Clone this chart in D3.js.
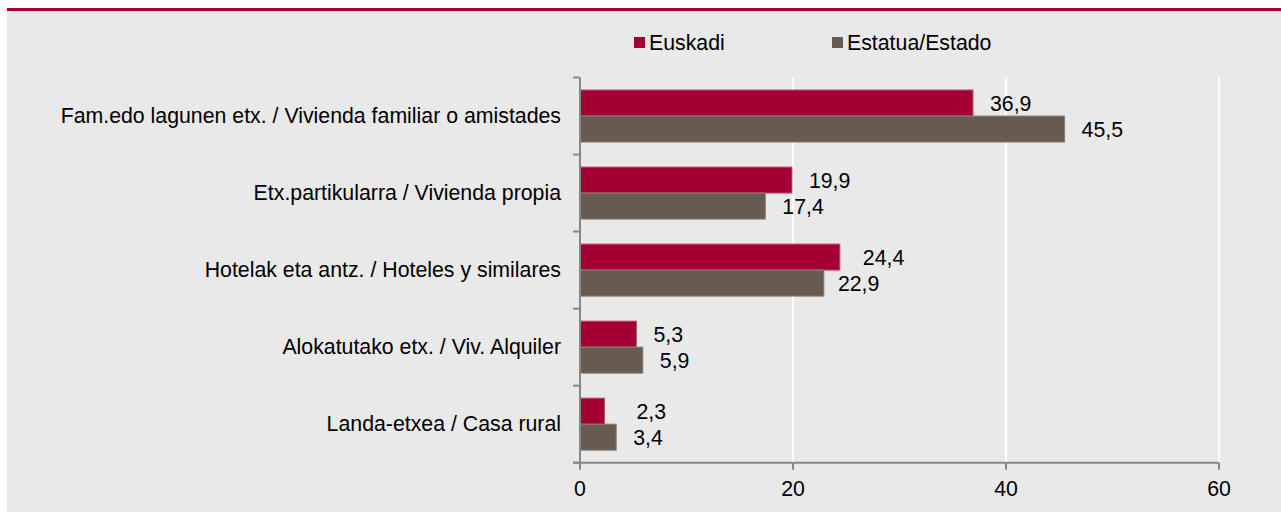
<!DOCTYPE html>
<html>
<head>
<meta charset="utf-8">
<script src="https://cdn.jsdelivr.net/npm/d3@7"></script>
<style>
  html, body { margin: 0; padding: 0; background: #ffffff; }
  svg { display: block; }
  text { font-family: "Liberation Sans", Arial, sans-serif; }
</style>
</head>
<body>
<svg id="chart" width="1281" height="512"></svg>
<script>
const categories = [
  "Fam.edo lagunen etx. / Vivienda familiar o amistades",
  "Etx.partikularra / Vivienda propia",
  "Hotelak eta antz. / Hoteles y similares",
  "Alokatutako etx. / Viv. Alquiler",
  "Landa-etxea / Casa rural"
];
const seriesNames = ["Euskadi", "Estatua/Estado"];
const euskadi = [36.9, 19.9, 24.4, 5.3, 2.3];
const estado = [45.5, 17.4, 22.9, 5.9, 3.4];
const xTicks = [0, 20, 40, 60];

(function () {
const colors = { "Euskadi": "#a50034", "Estatua/Estado": "#675a50" };
const strokes = { "Euskadi": "#c0506e", "Estatua/Estado": "#8a7f78" };
// small manual nudges of value labels as in the original layout
const labelNudge = { "Euskadi": [0, 0, 6, 0, 15], "Estatua/Estado": [0, 0, -3, 0, 0] };

const svg = d3.select("#chart");
const W = 1281, H = 512;
const FS = 21.3;

// background panel + top rule
svg.append("rect").attr("x", 7).attr("y", 11).attr("width", W - 7).attr("height", H - 11).attr("fill", "#e9e9e9");
svg.append("rect").attr("x", 7).attr("y", 8).attr("width", W - 7).attr("height", 3).attr("fill", "#a50034");

const pLeft = 580, pRight = 1219, pTop = 77.5, pBottom = 462.7;

const x = d3.scaleLinear().domain([0, 60]).range([pLeft, pRight]);
const y = d3.scaleBand().domain(categories).range([pTop, pBottom]).paddingInner(0).paddingOuter(0);
const ySub = d3.scaleBand().domain(seriesNames).range([12.5, y.bandwidth() - 12.5]).padding(0);

// gridlines
svg.append("g").selectAll("line").data(xTicks.filter(t => t > 0)).join("line")
  .attr("x1", d => x(d)).attr("x2", d => x(d))
  .attr("y1", pTop).attr("y2", pBottom)
  .attr("stroke", "#ffffff").attr("stroke-width", 2);

const rows = categories.map((c, i) => ({ cat: c, i, vals: [
  { s: "Euskadi", v: euskadi[i] },
  { s: "Estatua/Estado", v: estado[i] }
]}));

const g = svg.append("g");
const groups = g.selectAll("g.row").data(rows).join("g")
  .attr("class", "row")
  .attr("transform", d => `translate(0,${y(d.cat)})`);

groups.selectAll("rect").data(d => d.vals.map(v => ({ ...v, i: d.i }))).join("rect")
  .attr("x", x(0))
  .attr("y", d => ySub(d.s))
  .attr("width", d => x(d.v) - x(0))
  .attr("height", ySub.bandwidth())
  .attr("fill", d => colors[d.s])
  .attr("stroke", d => strokes[d.s])
  .attr("stroke-width", 1);

const fmt = v => d3.format(".1f")(v).replace(".", ",");
groups.selectAll("text.val").data(d => d.vals.map(v => ({ ...v, i: d.i }))).join("text")
  .attr("class", "val")
  .attr("x", d => x(d.v) + 17 + labelNudge[d.s][d.i])
  .attr("y", d => ySub(d.s) + ySub.bandwidth() / 2)
  .attr("dy", "0.36em")
  .attr("font-size", FS)
  .attr("fill", "#000")
  .text(d => fmt(d.v));

// y axis
const yAxis = svg.append("g");
yAxis.append("line").attr("x1", pLeft).attr("x2", pLeft).attr("y1", pTop).attr("y2", pBottom)
  .attr("stroke", "#878787").attr("stroke-width", 2);
const bounds = categories.map(c => y(c)).concat([pBottom]);
yAxis.selectAll("line.tk").data(bounds).join("line").attr("class", "tk")
  .attr("x1", pLeft - 7).attr("x2", pLeft).attr("y1", d => d).attr("y2", d => d)
  .attr("stroke", "#878787").attr("stroke-width", 2);
yAxis.selectAll("text").data(categories).join("text")
  .attr("x", 561)
  .attr("y", d => y(d) + y.bandwidth() / 2)
  .attr("dy", "0.33em")
  .attr("text-anchor", "end")
  .attr("font-size", FS)
  .attr("fill", "#000")
  .text(d => d);

// x axis
const xAxis = svg.append("g");
xAxis.append("line").attr("x1", pLeft - 7).attr("x2", pRight).attr("y1", pBottom).attr("y2", pBottom)
  .attr("stroke", "#878787").attr("stroke-width", 2);
xAxis.selectAll("line.tk").data(xTicks).join("line").attr("class", "tk")
  .attr("x1", d => x(d)).attr("x2", d => x(d)).attr("y1", pBottom).attr("y2", pBottom + 7)
  .attr("stroke", "#878787").attr("stroke-width", 2);
xAxis.selectAll("text").data(xTicks).join("text")
  .attr("x", d => x(d)).attr("y", 496)
  .attr("text-anchor", "middle")
  .attr("font-size", FS)
  .attr("fill", "#000")
  .text(d => d);

// legend
const legendX = { "Euskadi": 634, "Estatua/Estado": 832 };
const lg = svg.append("g");
lg.selectAll("rect").data(seriesNames).join("rect")
  .attr("x", d => legendX[d]).attr("y", 37).attr("width", 11).attr("height", 11)
  .attr("fill", d => colors[d]);
lg.selectAll("text").data(seriesNames).join("text")
  .attr("x", d => legendX[d] + 15).attr("y", 49.5)
  .attr("font-size", FS).attr("fill", "#000")
  .text(d => d);
})();
</script>
</body>
</html>
